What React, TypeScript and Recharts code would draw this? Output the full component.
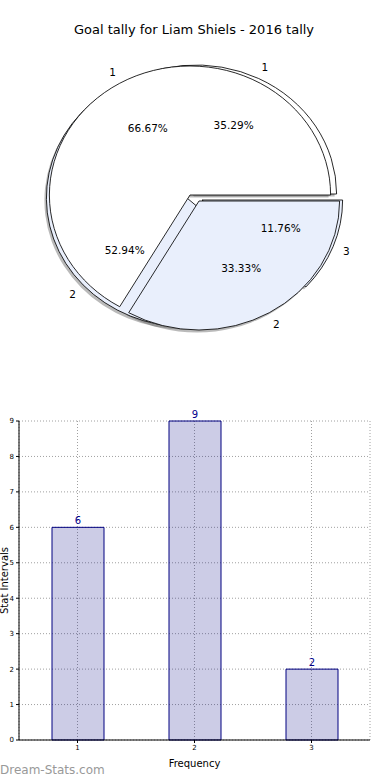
import React from 'react';
import { PieChart, Pie, Cell, BarChart, Bar, XAxis, YAxis, CartesianGrid, LabelList } from 'recharts';

const titleText = 'Goal tally for Liam Shiels - 2016 tally';
const innerPieLabels = ['1', '2'];
const innerPieValues = [2, 1];
const outerPieLabels = ['1', '2', '3'];
const outerPieValues = [6, 9, 2];
const barCategories = ['1', '2', '3'];
const barValues = [6, 9, 2];
const yTicks = [0, 1, 2, 3, 4, 5, 6, 7, 8, 9];
const xAxisTitle = 'Frequency';
const yAxisTitle = 'Stat Intervals';
const watermark = 'Dream-Stats.com';

const SX = 1.09;
const PIE_CX = 190;
const R = 129;
const FONT = "'DejaVu Sans', sans-serif";
const LIGHT = '#e9effc';
const GRID = '#a0a0a0';

const pieAColors = ['#ffffff', LIGHT];
const pieBColors = ['#ffffff', LIGHT, LIGHT];
const pieACenters = [[190, 195], [199, 201]];
const pieBCenters = [[196, 194], [187, 198], [202, 200]];

const ux = (x: number) => PIE_CX + (x - PIE_CX) / SX;

const pieAData = innerPieLabels.map((name, i) => ({ name, value: innerPieValues[i] }));
const pieBData = outerPieLabels.map((name, i) => ({ name, value: outerPieValues[i] }));
const barData = barCategories.map((cat, i) => ({ cat, value: barValues[i] }));

const makeLabel = (i: number, names: string[]) => (props: any) => {
  if (props.index !== i) return null;
  const { cx, cy, midAngle, outerRadius, percent } = props;
  const rad = (-midAngle * Math.PI) / 180;
  const px = cx + 0.6 * outerRadius * Math.cos(rad);
  const py = cy + 0.6 * outerRadius * Math.sin(rad);
  const lx = cx + 1.1 * outerRadius * Math.cos(rad);
  const ly = cy + 1.1 * outerRadius * Math.sin(rad);
  return (
    <g>
      <text
        transform={`translate(${px} ${py}) scale(${1 / SX} 1)`}
        x={0}
        y={0}
        textAnchor="middle"
        dominantBaseline="central"
        fontSize={10.5}
        fontFamily={FONT}
        fill="#000"
      >
        {(percent * 100).toFixed(2)}%
      </text>
      <text
        transform={`translate(${lx} ${ly}) scale(${1 / SX} 1)`}
        x={0}
        y={0}
        textAnchor="middle"
        dominantBaseline="central"
        fontSize={10.5}
        fontFamily={FONT}
        fill="#000"
      >
        {names[i]}
      </text>
    </g>
  );
};

function sliceLayer(
  key: string,
  data: { name: string; value: number }[],
  centers: number[][],
  colors: string[],
  names: string[],
  i: number,
  shadow: boolean
) {
  const [ax, ay] = centers[i];
  const dx = shadow ? -2 : 0;
  const dy = shadow ? 2.5 : 0;
  return (
    <Pie
      key={key}
      data={data}
      dataKey="value"
      nameKey="name"
      cx={ux(ax + dx)}
      cy={ay + dy}
      outerRadius={R}
      startAngle={0}
      endAngle={360}
      isAnimationActive={false}
      labelLine={false}
      label={shadow ? false : makeLabel(i, names)}
    >
      {data.map((_, j) => (
        <Cell
          key={j}
          fill={j === i ? (shadow ? '#666' : colors[j]) : 'none'}
          fillOpacity={shadow ? 0.45 : 1}
          stroke={j === i && !shadow ? '#000' : 'none'}
          strokeWidth={0.8}
        />
      ))}
    </Pie>
  );
}

export default function App() {
  const layers: React.ReactNode[] = [];
  pieBData.forEach((_, i) => layers.push(sliceLayer(`sb${i}`, pieBData, pieBCenters, pieBColors, outerPieLabels, i, true)));
  pieAData.forEach((_, i) => layers.push(sliceLayer(`sa${i}`, pieAData, pieACenters, pieAColors, innerPieLabels, i, true)));
  pieBData.forEach((_, i) => layers.push(sliceLayer(`b${i}`, pieBData, pieBCenters, pieBColors, outerPieLabels, i, false)));
  pieAData.forEach((_, i) => layers.push(sliceLayer(`a${i}`, pieAData, pieACenters, pieAColors, innerPieLabels, i, false)));

  return (
    <div style={{ position: 'absolute', left: 0, top: 0, width: 390, height: 780, background: '#fff', overflow: 'hidden', fontFamily: FONT }}>
      <div
        style={{
          position: 'absolute',
          left: 0,
          top: 21,
          width: 388,
          textAlign: 'center',
          fontSize: 13,
          lineHeight: '18px',
          color: '#000',
        }}
      >
        {titleText}
      </div>
      <div
        style={{
          position: 'absolute',
          left: 0,
          top: 0,
          width: 390,
          height: 380,
          transform: `scaleX(${SX})`,
          transformOrigin: `${PIE_CX}px 0px`,
        }}
      >
        <PieChart width={390} height={380} margin={{ top: 0, right: 0, bottom: 0, left: 0 }}>
          {layers}
        </PieChart>
      </div>
      <div style={{ position: 'absolute', left: 0, top: 400 }}>
        <BarChart width={390} height={380} data={barData} margin={{ top: 21, right: 20, bottom: 20, left: 0 }}>
          <CartesianGrid strokeDasharray="1 2" stroke={GRID} />
          <XAxis
            dataKey="cat"
            height={20}
            tick={{ fontSize: 7, fill: '#000', fontFamily: FONT }}
            tickSize={3}
            tickLine={{ stroke: '#000' }}
            axisLine={{ stroke: '#000' }}
            label={{ value: xAxisTitle, position: 'insideBottom', offset: -7, fontSize: 10, fill: '#000', fontFamily: FONT }}
          />
          <XAxis xAxisId="top" dataKey="cat" orientation="top" height={0} tick={false} tickLine={false} axisLine={{ stroke: '#000' }} />
          <YAxis
            domain={[0, 9]}
            ticks={yTicks}
            width={19}
            interval={0}
            tick={{ fontSize: 7, fill: '#000', fontFamily: FONT }}
            tickSize={3}
            tickLine={{ stroke: '#000' }}
            axisLine={{ stroke: '#000' }}
            label={{ value: yAxisTitle, angle: -90, position: 'center', dx: -5, fontSize: 10, fill: '#000', fontFamily: FONT }}
          />
          <YAxis yAxisId="right" orientation="right" width={0} domain={[0, 9]} tick={false} tickLine={false} axisLine={{ stroke: '#000' }} />
          <Bar dataKey="value" fill="#000080" fillOpacity={0.2} stroke="#000080" strokeWidth={1} barSize={52} isAnimationActive={false}>
            <LabelList dataKey="value" position="top" offset={3} fill="#00008b" fontSize={10} fontFamily={FONT} />
          </Bar>
        </BarChart>
      </div>
      <div
        style={{
          position: 'absolute',
          left: 0,
          top: 762,
          fontSize: 12,
          lineHeight: '16px',
          color: '#999',
          fontFamily: FONT,
        }}
      >
        {watermark}
      </div>
    </div>
  );
}
